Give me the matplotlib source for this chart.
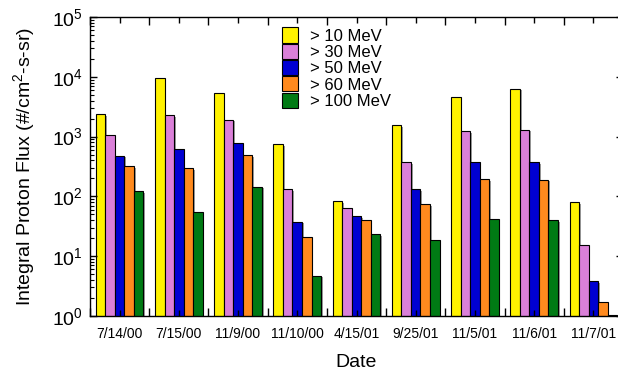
import numpy as np
import matplotlib
matplotlib.use("Agg")
import matplotlib.pyplot as plt
from matplotlib.patches import Patch
from matplotlib import patheffects as pe
from matplotlib.ticker import FixedLocator, LogLocator, LogFormatterMathtext, NullFormatter

plt.rcParams["font.family"] = ["Liberation Sans", "DejaVu Sans"]
plt.rcParams["mathtext.default"] = "regular"

# Data
dates = ["7/14/00", "7/15/00", "11/9/00", "11/10/00", "4/15/01",
         "9/25/01", "11/5/01", "11/6/01", "11/7/01"]
labels = ["> 10 MeV", "> 30 MeV", "> 50 MeV", "> 60 MeV", "> 100 MeV"]
flux_10 = [2390, 9620, 5350, 755, 83.5, 1545, 4580, 6310, 80.5]
flux_30 = [1067, 2300, 1920, 131, 64.7, 378, 1227, 1308, 15.1]
flux_50 = [482, 631, 784, 37.8, 47, 131, 378, 369, 3.83]
flux_60 = [320, 293, 488, 20.7, 39.8, 74.5, 194, 190, 1.69]
flux_100 = [121, 54, 145, 4.7, 23.3, 19, 41.9, 40.3, 1.03]
series = [flux_10, flux_30, flux_50, flux_60, flux_100]
colors = ["#FFF200", "#DA80D8", "#0000D2", "#FF8A1E", "#007A14"]

fig = plt.figure(figsize=(6.18, 3.70), dpi=100)
ax = fig.add_axes([90 / 618, 54 / 370, 533 / 618, 299 / 370])

x = np.arange(len(dates))
width = 0.161
offset = 0.097
shadow = [pe.SimplePatchShadow(offset=(1.2, -1.2), shadow_rgbFace="0.45", alpha=0.7), pe.Normal()]
for k, (vals, c) in enumerate(zip(series, colors)):
    ax.bar(x + offset + k * width, vals, width=width, align="edge",
           color=c, edgecolor="black", linewidth=0.8, path_effects=shadow)

ax.set_yscale("log")
ax.set_ylim(1, 1e5)
ax.set_xlim(0, len(dates))

# x ticks: boundaries (major), labels at centres (minor)
ax.xaxis.set_major_locator(FixedLocator(np.arange(len(dates) + 1)))
ax.xaxis.set_major_formatter(NullFormatter())
ax.xaxis.set_minor_locator(FixedLocator(x + 0.5))
ax.set_xticklabels(dates, minor=True, fontsize=10)
ax.tick_params(axis="x", which="major", direction="in", length=6, top=True, bottom=True, width=1)
ax.tick_params(axis="x", which="minor", direction="in", length=4, top=True, bottom=True, width=1, pad=8)

ax.yaxis.set_major_locator(LogLocator(base=10, numticks=10))
ax.yaxis.set_major_formatter(LogFormatterMathtext())
ax.yaxis.set_minor_locator(LogLocator(base=10, subs=np.arange(2, 10), numticks=10))
ax.yaxis.set_minor_formatter(NullFormatter())
ax.tick_params(axis="y", which="major", direction="in", length=5, left=True, right=True,
               labelsize=14, width=1, pad=5)
ax.tick_params(axis="y", which="minor", direction="in", length=3, left=True, right=False, width=0.8)

for s in ax.spines.values():
    s.set_linewidth(1)

ax.set_xlabel("Date", fontsize=14, labelpad=9)
ax.set_ylabel("Integral Proton Flux (#/cm$^{2}$-s-sr)", fontsize=14, labelpad=11)

handles = [Patch(facecolor=c, edgecolor="black", linewidth=0.8) for c in colors]
ax.legend(handles, labels, loc="upper left", bbox_to_anchor=(0.36, 0.965), frameon=False,
          fontsize=12, borderpad=0, borderaxespad=0, handlelength=0.97, handleheight=1.02,
          handletextpad=0.72, labelspacing=0.0)

fig.savefig("out.png", dpi=100)
